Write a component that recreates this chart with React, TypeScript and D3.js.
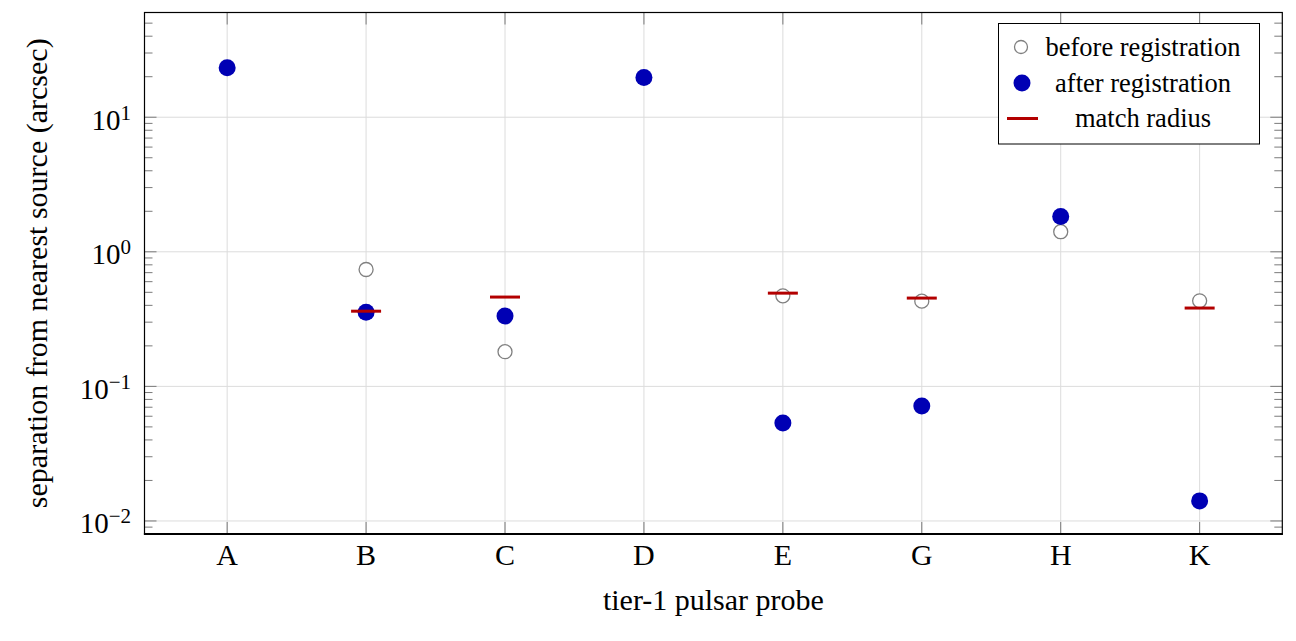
import React, { useRef, useEffect } from 'react';
import * as d3 from 'd3';

const categories = ['A', 'B', 'C', 'D', 'E', 'G', 'H', 'K'];
const beforeReg: (number | null)[] = [null, 0.739, 0.181, null, 0.471, 0.43, 1.41, 0.432];
const afterReg: (number | null)[] = [23.3, 0.355, 0.333, 19.7, 0.0534, 0.0714, 1.83, 0.0141];
const matchRadius: (number | null)[] = [null, 0.362, 0.461, null, 0.493, 0.453, null, 0.382];
const majorTicks = [0.01, 0.1, 1, 10];
const majorExponents = ['\u22122', '\u22121', '0', '1'];
const legendLabels = ['before registration', 'after registration', 'match radius'];

const WIDTH = 1296;
const HEIGHT = 641;
const FONT = '"Liberation Serif", "Times New Roman", serif';
const BLUE = '#0000b4';
const RED = '#b30000';
const GRID = '#dcdcdc';
const TICK = '#7a7a7a';
const SUP_SIZE = 21;

export default function App() {
  const svgRef = useRef<SVGSVGElement>(null);

  useEffect(() => {
    if (!svgRef.current) return;
    const svg = d3.select(svgRef.current);
    svg.selectAll('*').remove();

    const left = 144.5;
    const right = 1282.3;
    const top = 12.5;
    const bottom = 534;

    const x = d3.scalePoint<string>().domain(categories).range([left, right]).padding(0.595);
    const y = d3.scaleLog().domain([0.008, 60]).range([bottom, top]);

    const g = svg.append('g');

    // grid
    g.selectAll('line.vgrid')
      .data(categories)
      .join('line')
      .attr('x1', (d) => x(d)!)
      .attr('x2', (d) => x(d)!)
      .attr('y1', top)
      .attr('y2', bottom)
      .attr('stroke', GRID)
      .attr('stroke-width', 1);

    g.selectAll('line.hgrid')
      .data(majorTicks)
      .join('line')
      .attr('x1', left)
      .attr('x2', right)
      .attr('y1', (d) => y(d))
      .attr('y2', (d) => y(d))
      .attr('stroke', GRID)
      .attr('stroke-width', 1);

    // minor ticks (2..9 per decade)
    const minor: number[] = [];
    for (let e = -3; e <= 1; e++) {
      for (let m = 2; m <= 9; m++) {
        const v = m * Math.pow(10, e);
        if (v >= 0.008 && v <= 60) minor.push(v);
      }
    }

    const ticksG = g.append('g').attr('stroke', TICK).attr('stroke-width', 1);
    [left, right].forEach((edge) => {
      const dir = edge === left ? 1 : -1;
      ticksG.append('g').selectAll('line')
        .data(minor)
        .join('line')
        .attr('x1', edge)
        .attr('x2', edge + dir * 8)
        .attr('y1', (d) => y(d))
        .attr('y2', (d) => y(d));
      ticksG.append('g').selectAll('line')
        .data(majorTicks)
        .join('line')
        .attr('x1', edge)
        .attr('x2', edge + dir * 12)
        .attr('y1', (d) => y(d))
        .attr('y2', (d) => y(d));
    });
    [top, bottom].forEach((edge) => {
      const dir = edge === top ? 1 : -1;
      ticksG.append('g').selectAll('line')
        .data(categories)
        .join('line')
        .attr('x1', (d) => x(d)!)
        .attr('x2', (d) => x(d)!)
        .attr('y1', edge)
        .attr('y2', edge + dir * 12);
    });

    // frame
    g.append('rect')
      .attr('x', left)
      .attr('y', top)
      .attr('width', right - left)
      .attr('height', bottom - top)
      .attr('fill', 'none')
      .attr('stroke', '#000')
      .attr('stroke-width', 1.2);
    g.append('line')
      .attr('x1', left - 0.6)
      .attr('x2', right + 0.6)
      .attr('y1', bottom)
      .attr('y2', bottom)
      .attr('stroke', '#000')
      .attr('stroke-width', 2);

    // y tick labels: "10" + exponent as two texts, right edge at 131
    const yLab = g.append('g')
      .attr('font-family', FONT)
      .attr('fill', '#000');
    majorTicks.forEach((v, i) => {
      const exp = majorExponents[i];
      const expW = Array.from(exp).reduce((s, c) => s + (c === '\u2212' ? 0.564 : 0.5), 0) * SUP_SIZE;
      const split = 131 - expW;
      const base = y(v) + 12.5;
      yLab.append('text')
        .attr('x', split)
        .attr('y', base)
        .attr('text-anchor', 'end')
        .attr('font-size', 29)
        .text('10');
      yLab.append('text')
        .attr('x', split)
        .attr('y', base - 10)
        .attr('text-anchor', 'start')
        .attr('font-size', SUP_SIZE)
        .text(exp);
    });

    // x tick labels
    g.append('g')
      .selectAll('text')
      .data(categories)
      .join('text')
      .attr('x', (d) => x(d)!)
      .attr('y', 565)
      .attr('text-anchor', 'middle')
      .attr('font-family', FONT)
      .attr('font-size', 30)
      .text((d) => d);

    // axis titles
    g.append('text')
      .attr('x', (left + right) / 2)
      .attr('y', 610)
      .attr('text-anchor', 'middle')
      .attr('font-family', FONT)
      .attr('font-size', 30)
      .text('tier-1 pulsar probe');

    g.append('text')
      .attr('transform', `translate(47,${(top + bottom) / 2}) rotate(-90)`)
      .attr('text-anchor', 'middle')
      .attr('font-family', FONT)
      .attr('font-size', 30)
      .text('separation from nearest source (arcsec)');

    // data
    const idx = d3.range(categories.length);
    g.append('g').selectAll('circle')
      .data(idx.filter((i) => beforeReg[i] != null))
      .join('circle')
      .attr('cx', (i) => x(categories[i])!)
      .attr('cy', (i) => y(beforeReg[i]!))
      .attr('r', 7)
      .attr('fill', '#fff')
      .attr('stroke', '#808080')
      .attr('stroke-width', 1.3);

    g.append('g').selectAll('circle')
      .data(idx.filter((i) => afterReg[i] != null))
      .join('circle')
      .attr('cx', (i) => x(categories[i])!)
      .attr('cy', (i) => y(afterReg[i]!))
      .attr('r', 8.5)
      .attr('fill', BLUE);

    g.append('g').selectAll('line')
      .data(idx.filter((i) => matchRadius[i] != null))
      .join('line')
      .attr('x1', (i) => x(categories[i])! - 15)
      .attr('x2', (i) => x(categories[i])! + 15)
      .attr('y1', (i) => y(matchRadius[i]!))
      .attr('y2', (i) => y(matchRadius[i]!))
      .attr('stroke', RED)
      .attr('stroke-width', 3);

    // legend
    const lg = g.append('g');
    lg.append('rect')
      .attr('x', 998.5)
      .attr('y', 23.5)
      .attr('width', 261)
      .attr('height', 120.5)
      .attr('fill', '#fff')
      .attr('stroke', '#000')
      .attr('stroke-width', 1);
    const rowY = [47, 83, 118.5];
    lg.append('circle')
      .attr('cx', 1021)
      .attr('cy', rowY[0])
      .attr('r', 6.5)
      .attr('fill', '#fff')
      .attr('stroke', '#808080')
      .attr('stroke-width', 1.3);
    lg.append('circle')
      .attr('cx', 1022)
      .attr('cy', rowY[1])
      .attr('r', 8.5)
      .attr('fill', BLUE);
    lg.append('line')
      .attr('x1', 1007)
      .attr('x2', 1038)
      .attr('y1', rowY[2])
      .attr('y2', rowY[2])
      .attr('stroke', RED)
      .attr('stroke-width', 3);
    lg.selectAll('text')
      .data(legendLabels)
      .join('text')
      .attr('x', 1143)
      .attr('y', (_, i) => rowY[i] + 8.5)
      .attr('text-anchor', 'middle')
      .attr('font-family', FONT)
      .attr('font-size', 26.5)
      .text((d) => d);
  }, []);

  return (
    <svg
      ref={svgRef}
      width={WIDTH}
      height={HEIGHT}
      style={{ position: 'absolute', left: 0, top: 0, background: '#fff' }}
    />
  );
}
